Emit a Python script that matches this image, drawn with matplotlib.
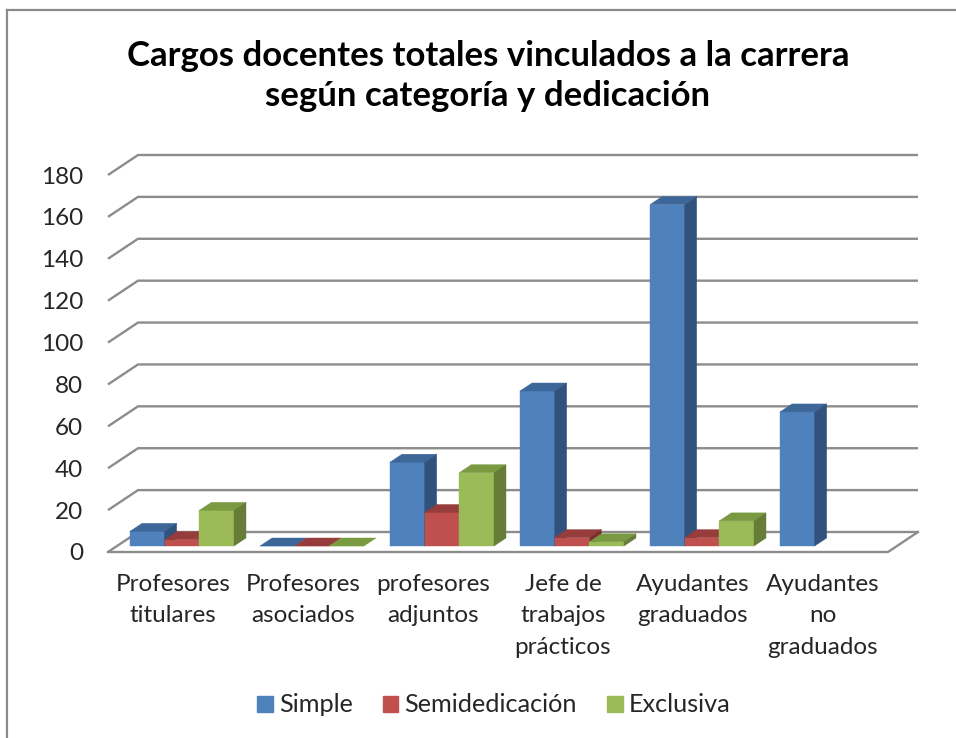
import numpy as np
import matplotlib
matplotlib.use("Agg")
import matplotlib.pyplot as plt
from matplotlib.patches import Polygon, Patch
from matplotlib.lines import Line2D

plt.rcParams['font.family'] = ['Lato', 'DejaVu Sans']

categories = ["Profesores\ntitulares", "Profesores\nasociados", "profesores\nadjuntos",
              "Jefe de\ntrabajos\nprácticos", "Ayudantes\ngraduados", "Ayudantes\nno\ngraduados"]
series_names = ["Simple", "Semidedicación", "Exclusiva"]
simple = [7, 0, 40, 74, 163, 64]
semidedicacion = [3, 0, 16, 4, 4, None]
exclusiva = [17, 0, 35, 2, 12, None]
yticks = [0, 20, 40, 60, 80, 100, 120, 140, 160, 180]

front_cols = ["#4F81BD", "#C0504D", "#9BBB59"]
top_cols = ["#3D6699", "#963C3A", "#7A9A42"]
side_cols = ["#30527D", "#7E2F2D", "#657D37"]

W, H = 956, 738
fig = plt.figure(figsize=(W / 100, H / 100), dpi=100)
fig.patch.set_facecolor("white")

# front plane in pixels
x0p, x1p = 108, 888
y0p, y1p = 552, 175
ax = fig.add_axes([x0p / W, 1 - y0p / H, (x1p - x0p) / W, (y0p - y1p) / H])
ax.set_xlim(0, len(categories))
ax.set_ylim(0, 180)
for s in ax.spines.values():
    s.set_visible(False)
ax.set_facecolor("none")

pxx = len(categories) / (x1p - x0p)   # data units per pixel (x)
pxy = 180 / (y0p - y1p)               # data units per pixel (y)

# wall offset, bar-front offset, bar depth
wdx, wdy = 30 * pxx, 20 * pxy
fdx, fdy = 9 * pxx, 6 * pxy
bdx, bdy = 12 * pxx, 8 * pxy

grid_col = "#8C8C8C"
n = len(categories)
for v in yticks:
    ax.plot([0, wdx, n + wdx], [v, v + wdy, v + wdy], color=grid_col, lw=1.7,
            clip_on=False, zorder=1, solid_capstyle='butt')
# floor front and right edge
ax.plot([0, n, n + wdx], [0, 0, wdy], color=grid_col, lw=1.7, clip_on=False, zorder=1)

data = [simple, semidedicacion, exclusiva]
bw = 0.8 / 3
for i in range(n):
    for j in range(3):
        v = data[j][i]
        if v is None:
            continue
        xl = i + 0.1 + j * bw + fdx
        b0 = fdy
        ax.bar(xl, v, width=bw, bottom=b0, align='edge', color=front_cols[j],
               edgecolor=front_cols[j], lw=0.3, clip_on=False, zorder=3)
        top = Polygon([(xl, b0 + v), (xl + bw, b0 + v), (xl + bw + bdx, b0 + v + bdy),
                       (xl + bdx, b0 + v + bdy)], closed=True, facecolor=top_cols[j],
                      edgecolor=top_cols[j], lw=0.3, clip_on=False, zorder=3)
        ax.add_patch(top)
        if v > 0:
            side = Polygon([(xl + bw, b0), (xl + bw, b0 + v), (xl + bw + bdx, b0 + v + bdy),
                            (xl + bw + bdx, b0 + bdy)], closed=True, facecolor=side_cols[j],
                           edgecolor=side_cols[j], lw=0.3, clip_on=False, zorder=3)
            ax.add_patch(side)

ax.set_yticks(yticks)
ax.set_yticklabels([str(t) for t in yticks], fontsize=17.5, color="#262626")
ax.set_xticks(np.arange(n) + 0.5)
ax.set_xticklabels(categories, fontsize=17.5, color="#262626", linespacing=1.6)
ax.tick_params(axis='y', length=0, pad=18)
ax.tick_params(axis='x', length=0, pad=16)

fig.text(488 / W, 1 - 76 / H, "Cargos docentes totales vinculados a la carrera\nsegún categoría y dedicación",
         ha='center', va='center', fontsize=25, fontweight='bold', linespacing=1.3, color="black")

handles = [Patch(facecolor=c, edgecolor=c) for c in front_cols]
fig.legend(handles, series_names, loc='center', bbox_to_anchor=(494 / W, 1 - 705 / H),
           ncol=3, frameon=False, fontsize=18.2, handlelength=0.6, handleheight=0.6,
           handletextpad=0.25, columnspacing=1.2, labelcolor="#262626")

# chart border (left and top)
fig.add_artist(Line2D([7 / W, 7 / W], [0, 1 - 10 / H], color="#8A8A8A", lw=1.6, transform=fig.transFigure))
fig.add_artist(Line2D([7 / W, 1], [1 - 10 / H, 1 - 10 / H], color="#8A8A8A", lw=1.6, transform=fig.transFigure))

fig.savefig("out.png", dpi=100, facecolor="white")
